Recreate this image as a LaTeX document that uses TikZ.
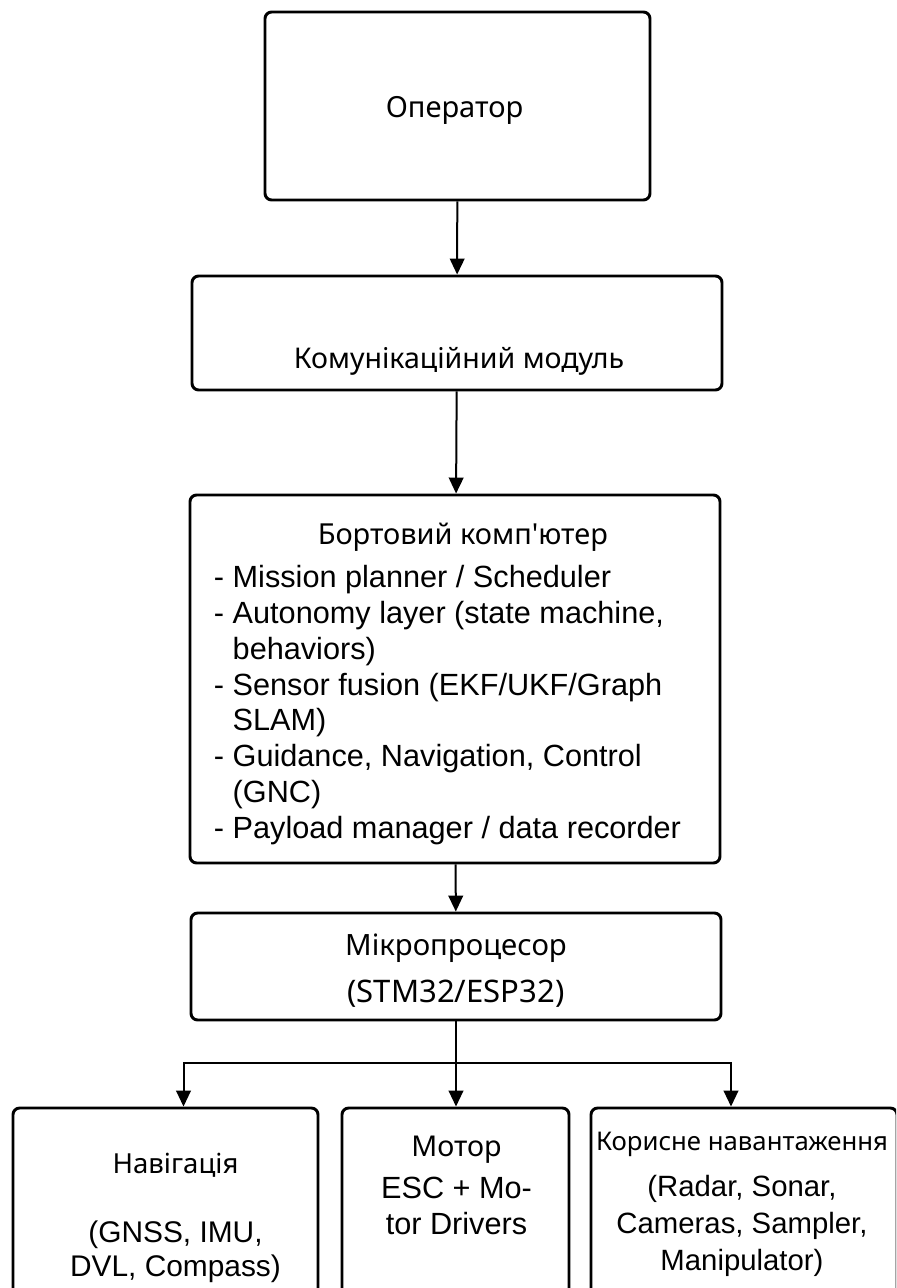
\documentclass[tikz,border=0pt]{standalone}
\usepackage{fontspec}
\setmainfont{Noto Sans}
\newfontfamily\headfont{Noto Sans}
\newfontfamily\listfont{Liberation Sans}
\newcommand\latsize[1]{\listfont\fontsize{#1}{26}\selectfont}
\usetikzlibrary{arrows.meta,calc,positioning}
\tikzset{
  every node/.style={font=\fontsize{21}{25}\selectfont, text=black},
  block/.style={draw=black, line width=2.2pt, rounded corners=5pt, fill=white, inner sep=0pt},
  caption/.style={align=center, inner sep=0pt},
  flow/.style={-{Triangle[length=12pt,width=11pt]}, draw=black, line width=1.5pt},
}
\begin{document}
\begin{tikzpicture}[x=0.75pt,y=-0.75pt]
  \clip (0,0) rectangle (896,1288);
  \fill[white] (0,0) rectangle (896,1288);
  % upper chain
  \node[block, minimum width=288.75pt, minimum height=141pt] (op) at (457.5,106) {};
  \node[caption, font=\fontsize{21.8}{25}\selectfont] (optxt) at ($(op.center)+(-3,4)$) {Оператор};
  \node[block, minimum width=397.5pt, minimum height=85.5pt] (comm) at (457,333) {};
  \node[caption, font=\fontsize{21.4}{25}\selectfont] (commtxt) at ($(comm.center)+(2,28)$) {Комунікаційний модуль};
  \node[block, minimum width=397.5pt, minimum height=276pt] (obc) at (455,679) {};
  \node[caption] (obctxt) at ($(obc.center)+(-7.5,5)$) {%
    \listfont\fontsize{23}{26.8}\selectfont
    \begin{tabular}{@{}l@{}}
      \multicolumn{1}{@{}c@{}}{\hspace*{23pt}\fontsize{21.7}{26.8}\selectfont\headfont Бортовий комп'ютер}\\[6pt]
      - Mission planner / Scheduler\\
      - Autonomy layer (state machine,\\
      \phantom{- }behaviors)\\
      - Sensor fusion (EKF/UKF/Graph\\
      \phantom{- }SLAM)\\
      - Guidance, Navigation, Control\\
      \phantom{- }(GNC)\\
      - Payload manager / data recorder
    \end{tabular}};
  \node[block, minimum width=397.5pt, minimum height=80.25pt] (mcu) at (456,966.5) {};
  \node[caption, font=\fontsize{22}{35.3}\selectfont] (mcutxt) at ($(mcu.center)+(0,4.5)$)
    {Мікропроцесор\\{\fontsize{23.3}{35.3}\selectfont (STM32/ESP32)}};
  % lower row
  \node[block, minimum width=228.75pt, minimum height=151.5pt] (nav) at (165.5,1209) {};
  \node[block, minimum width=170.25pt, minimum height=151.5pt] (motor) at (455.5,1209) {};
  \node[block, minimum width=229.5pt, minimum height=151.5pt] (load) at (744,1209) {};
  \node[caption, font=\fontsize{20.7}{25.9}\selectfont] (navtxt) at ($(nav.north)+(10,111.5)$)
    {Навігація\\ \\{\latsize{22.4}(GNSS, IMU,}\\{\latsize{22.4}DVL, Compass)}};
  \node[caption, font=\fontsize{21.5}{27}\selectfont] (motortxt) at ($(motor.north)+(1,78.5)$)
    {Мотор\\[4.5pt]{\latsize{23}ESC + Mo-}\\{\latsize{23}tor Drivers}};
  \node[caption, font=\fontsize{19.3}{28}\selectfont] (loadtxt) at ($(load.north)+(-2,98)$)
    {Корисне навантаження\\[6pt]{\latsize{22}(Radar, Sonar,}\\{\latsize{22}Cameras, Sampler,}\\{\latsize{22}Manipulator)}};
  % connectors
  \draw[flow] (op) -- (comm);
  \draw[flow] (comm) -- (obc);
  \draw[flow] (obc) -- (mcu);
  \coordinate (split) at ($(mcu.south)+(0,42)$);
  \draw[line width=1.5pt] (mcu.south) -- (split);
  \draw[flow] (split) -| ([xshift=13.5pt]nav.north);
  \draw[flow] (split) -- (split |- motor.north);
  \draw[flow] (split) -| ([xshift=-9.75pt]load.north);
\end{tikzpicture}
\end{document}
